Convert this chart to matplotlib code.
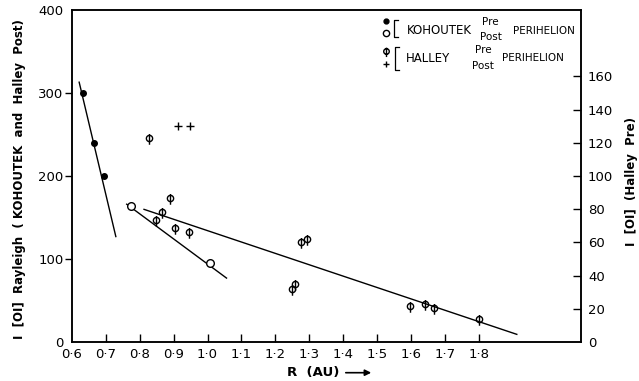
import matplotlib
matplotlib.use("Agg")
import matplotlib.pyplot as plt
from matplotlib.path import Path

# Kohoutek (left axis, Rayleigh)
koh_pre_r = [0.633, 0.666, 0.696]
koh_pre_i = [300, 240, 200]
koh_post_r = [0.774, 1.007]
koh_post_i = [164, 95]

# Halley post (left axis)
hal_post_r = [0.913, 0.948]
hal_post_i = [260, 260]

# Halley pre (right axis)
hal_pre_r = [0.828, 0.848, 0.866, 0.889, 0.905, 0.946, 1.250, 1.259,
             1.276, 1.293, 1.595, 1.642, 1.668, 1.799]
hal_pre_i = [123, 73.5, 78.5, 86.6, 68.5, 66.1, 31.9, 34.8,
             60.1, 62.0, 21.7, 22.7, 20.7, 13.7]

# fitted lines (end points)
fit_koh_pre_r = [0.622, 0.730]
fit_koh_pre_i = [313, 127]
fit_koh_post_r = [0.762, 1.056]
fit_koh_post_i = [166, 77]
fit_hal_r = [0.813, 1.911]
fit_hal_i = [79.9, 4.6]

x_ticks = [0.6, 0.7, 0.8, 0.9, 1.0, 1.1, 1.2, 1.3, 1.4, 1.5, 1.6, 1.7, 1.8]
x_labels = ["0·6", "0·7", "0·8", "0·9", "1·0", "1·1", "1·2", "1·3",
            "1·4", "1·5", "1·6", "1·7", "1·8"]
left_ticks = [0, 100, 200, 300, 400]
right_ticks = [0, 20, 40, 60, 80, 100, 120, 140, 160]

# phi-like marker: open circle with a vertical stroke
phi = Path.make_compound_path(
    Path.unit_circle(),
    Path([(0, -2.0), (0, 1.4)], [Path.MOVETO, Path.LINETO]))

fig = plt.figure(figsize=(6.39, 3.81), dpi=100)
ax = fig.add_axes([0.1122, 0.1024, 0.797, 0.8714])
ax2 = ax.twinx()

lw = 1.0
ax.plot(fit_koh_pre_r, fit_koh_pre_i, color="k", lw=lw)
ax.plot(fit_koh_post_r, fit_koh_post_i, color="k", lw=lw)
ax2.plot(fit_hal_r, fit_hal_i, color="k", lw=lw)

ax.plot(koh_pre_r, koh_pre_i, "o", color="k", ms=4)
ax.plot(koh_post_r, koh_post_i, "o", mfc="white", mec="k", mew=1.0, ms=5.5)
ax.plot(hal_post_r, hal_post_i, "+", color="k", ms=6, mew=1.0)
ax2.plot(hal_pre_r, hal_pre_i, marker=phi, ls="none", mfc="none",
         mec="k", mew=1.0, ms=9)

ax.set_xlim(0.6, 2.1)
ax.set_ylim(0, 400)
ax2.set_ylim(0, 200)

ax.set_xticks(x_ticks)
ax.set_xticklabels(x_labels)
ax.set_yticks(left_ticks)
ax.set_yticklabels([str(v) for v in left_ticks])
ax2.set_yticks(right_ticks)
ax2.set_yticklabels([str(v) for v in right_ticks])

ax.tick_params(axis="x", direction="in", length=6, width=1.0, pad=4,
               labelsize=9.5, top=False)
ax.tick_params(axis="y", direction="out", length=5, width=1.0, pad=1,
               labelsize=9.5)
ax2.tick_params(axis="y", direction="in", length=6, width=1.0, pad=5,
                labelsize=9.5)
ax.xaxis.get_major_ticks()[0].tick1line.set_visible(False)
ax.yaxis.get_major_ticks()[0].tick1line.set_visible(False)
ax.yaxis.get_major_ticks()[-1].tick1line.set_visible(False)
ax2.yaxis.get_major_ticks()[0].tick2line.set_visible(False)

for a in (ax, ax2):
    for s in a.spines.values():
        s.set_linewidth(1.1)

# axis labels
fig.text(20 / 639, 1 - 179 / 381,
         "I  [OI]  Rayleigh  ( KOHOUTEK  and  Halley  Post)",
         rotation=90, ha="center", va="center", fontsize=8.5,
         fontweight="bold")
fig.text(631.5 / 639, 1 - 181 / 381, "I  [OI]  (Halley  Pre)",
         rotation=90, ha="center", va="center", fontsize=8.5,
         fontweight="bold")
fig.text(287 / 639, 8.3 / 381, "R  (AU)", ha="left", va="center",
         fontsize=9.5, fontweight="bold")
ax.annotate("", xy=(374, 8.3), xytext=(343, 8.3), xycoords="figure pixels",
            textcoords="figure pixels",
            arrowprops=dict(arrowstyle="-|>", color="k", lw=1.2,
                            mutation_scale=9))

# hand-drawn style key
T = ax.transAxes
ax.plot([0.6171], [0.9678], "o", color="k", ms=3.5, transform=T,
        clip_on=False)
ax.plot([0.6171], [0.930], "o", mfc="white", mec="k", ms=4.5, mew=1.0,
        transform=T, clip_on=False)
ax.plot([0.6171], [0.877], marker=phi, mfc="none", mec="k", ms=8, mew=1.0,
        transform=T, clip_on=False)
ax.plot([0.6171], [0.837], "+", color="k", ms=5, mew=1.0, transform=T,
        clip_on=False)
ax.plot([0.6413, 0.6334, 0.6334, 0.6413], [0.970, 0.970, 0.9196, 0.9196],
        color="k", lw=0.9, transform=T)
ax.plot([0.6427, 0.6348, 0.6348, 0.6427], [0.8877, 0.8877, 0.8193, 0.8193],
        color="k", lw=0.9, transform=T)

fs = 7.5
ax.text(0.6578, 0.9377, "KOHOUTEK", transform=T, ha="left", va="center",
        fontsize=8.5)
ax.text(0.8227, 0.9648, "Pre", transform=T, ha="center", va="center",
        fontsize=fs)
ax.text(0.8227, 0.9178, "Post", transform=T, ha="center", va="center",
        fontsize=fs)
ax.text(0.8665, 0.9377, "PERIHELION", transform=T, ha="left", va="center",
        fontsize=fs)
ax.text(0.6564, 0.8545, "HALLEY", transform=T, ha="left", va="center",
        fontsize=8.5)
ax.text(0.8076, 0.8795, "Pre", transform=T, ha="center", va="center",
        fontsize=fs)
ax.text(0.8076, 0.8313, "Post", transform=T, ha="center", va="center",
        fontsize=fs)
ax.text(0.8443, 0.8545, "PERIHELION", transform=T, ha="left", va="center",
        fontsize=fs)

fig.savefig("out.png", dpi=100)
